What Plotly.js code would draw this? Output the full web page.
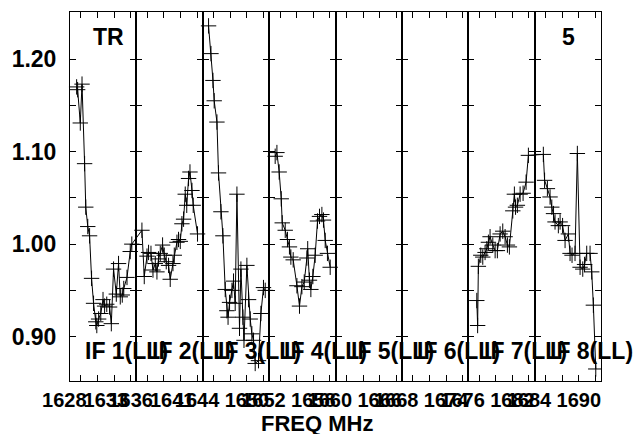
<!DOCTYPE html>
<html><head><meta charset="utf-8">
<script src="https://cdn.plot.ly/plotly-3.0.1.min.js"></script>
<style>html,body{margin:0;padding:0;background:#fff}</style>
</head><body><div id="chart" style="width:639px;height:434px"></div>
<script>
// ---- data (frequency in MHz, amplitude) ----
const if1Freq = [1629.48,1629.60,1629.92,1630.13,1630.44,1630.58,1630.82,1631.04,1631.28,1631.52,1631.79,1631.91,1632.13,1632.39,1632.66,1632.85,1633.11,1633.45,1633.66,1633.93,1634.26,1634.53,1634.74,1634.98,1635.16,1635.55,1635.94,1636.13];
const if1Amp  = [1.170,1.167,1.131,1.173,1.087,1.040,1.019,1.009,0.963,0.936,0.916,0.912,0.919,0.925,0.940,0.933,0.935,0.932,0.914,0.973,0.946,0.979,0.943,0.945,0.952,0.964,0.992,1.000];
const if2Freq = [1637.35,1637.63,1637.96,1638.15,1638.44,1638.68,1638.96,1639.16,1639.35,1639.56,1639.84,1640.04,1640.28,1640.56,1640.76,1641.09,1641.25,1641.57,1641.76,1641.97,1642.17,1642.37,1642.57,1642.75,1642.97,1643.14,1643.38,1643.53,1644.05];
const if2Amp  = [1.015,0.965,0.987,0.991,0.990,0.972,0.979,0.970,0.984,0.990,0.999,0.988,0.981,0.977,0.962,0.979,0.988,1.002,1.005,1.003,1.022,1.027,1.054,1.042,1.071,1.078,1.058,1.042,1.011];
const if3Freq = [1645.38,1645.67,1645.91,1646.06,1646.39,1646.58,1646.87,1647.11,1647.39,1647.59,1647.73,1647.91,1648.20,1648.39,1648.59,1648.80,1649.11,1649.28,1649.52,1649.65,1650.00,1650.20,1650.40,1650.60,1650.80,1651.00,1651.40,1651.69,1652.00,1652.21];
const if3Amp  = [1.236,1.206,1.177,1.155,1.132,1.077,1.035,1.009,0.951,0.928,0.921,0.937,0.950,0.960,0.936,1.054,0.909,0.973,0.921,0.896,0.977,0.940,0.919,0.903,0.896,0.871,0.874,0.925,0.953,0.950];
const if4Freq = [1653.41,1653.62,1653.89,1654.14,1654.26,1654.62,1654.89,1655.13,1655.30,1655.58,1656.03,1656.34,1656.63,1656.91,1657.23,1657.33,1657.54,1657.71,1657.95,1658.23,1658.51,1658.75,1659.04,1659.23,1659.44,1659.71,1660.04];
const if4Amp  = [1.095,1.099,1.078,1.049,1.023,1.015,1.005,0.997,0.986,0.983,0.955,0.933,0.954,0.959,0.985,0.995,0.961,0.951,0.965,0.988,1.025,1.030,1.032,1.026,1.004,0.990,0.975];
const if7Freq = [1677.71,1677.81,1677.90,1678.19,1678.43,1678.71,1678.92,1679.11,1679.31,1679.64,1679.92,1680.19,1680.52,1680.84,1681.12,1681.40,1681.64,1682.05,1682.24,1682.38,1682.60,1682.93,1683.29,1683.65,1683.93];
const if7Amp  = [0.939,0.912,0.976,0.988,0.986,0.991,0.995,1.002,1.008,0.999,0.993,0.993,1.011,1.014,1.008,0.999,0.997,1.036,1.054,1.040,1.042,1.054,1.055,1.067,1.096];
const if8Freq = [1685.73,1685.88,1686.22,1686.54,1686.75,1686.96,1687.14,1687.54,1687.75,1688.05,1688.35,1688.75,1688.95,1689.19,1689.55,1689.83,1690.16,1690.48,1690.70,1690.96,1691.36,1691.56,1691.76,1692.05];
const if8Amp  = [1.097,1.069,1.060,1.051,1.040,1.033,1.024,1.020,1.024,1.020,1.004,1.011,0.990,0.988,0.990,1.098,0.975,0.973,0.978,0.990,0.990,0.970,0.934,0.865];

const ifLabels = ['IF 1(LL)','IF 2(LL)','IF 3(LL)','IF 4(LL)','IF 5(LL)','IF 6(LL)','IF 7(LL)','IF 8(LL)'];
const ifStartFreq = [1628.68,1636.68,1644.68,1652.68,1660.68,1668.68,1676.68,1684.68];
const ifBandwidth = 8;
const yTickVals = [0.90,0.95,1.00,1.05,1.10,1.15,1.20];
const yTickText = ['0.90','','1.00','','1.10','','1.20'];
const xLabelFreqs = [1628,1633,1636,1641,1644,1650,1652,1658,1660,1666,1668,1674,1676,1682,1684,1690];
const xLabelText  = ['1628','1633','1636','1641','1644','1650','1652','1658','1660','1666','1668','1674','1676','1682','1684','1690'];
const yRange = [0.852, 1.251];

// ---- geometry (layout only) ----
const W = 639, H = 434, ML = 40, MR = 38, MT = 12, MB = 53;
const plotW = W - ML - MR;            // 561
const frameLeftPx = 30;               // frame starts 30px into the plot area
const panelPx = (plotW - frameLeftPx) / 8;
const pxPerMHz = panelPx / ifBandwidth;
const fullRange = [ifStartFreq[0] - frameLeftPx / pxPerMHz, ifStartFreq[7] + ifBandwidth];

// ---- one polyline; breaks where the plot shows none ----
const xs = [].concat(if1Freq, if2Freq, [null], if3Freq, [null], if4Freq, [null], if7Freq, if8Freq);
const ys = [].concat(if1Amp, if2Amp, [null], if3Amp, [null], if4Amp, [null], if7Amp, if8Amp);

const FONT = 'Liberation Sans, Arial, Helvetica, sans-serif';
const traces = [{
  type:'scatter', mode:'lines+markers', x:xs, y:ys, xaxis:'x', yaxis:'y',
  connectgaps:false, showlegend:false, hoverinfo:'skip',
  line:{color:'#000', width:1},
  marker:{symbol:'cross-thin-open', size:11, color:'#000', line:{color:'#000', width:1}}
}];

const layout = {
  width:W, height:H,
  margin:{l:ML, r:MR, t:MT, b:MB},
  paper_bgcolor:'#fff', plot_bgcolor:'rgba(0,0,0,0)',
  showlegend:false,
  font:{family:FONT, color:'#000'},
  xaxis:{domain:[0,1], anchor:'y', range:fullRange,
    tickmode:'array', tickvals:xLabelFreqs, ticktext:xLabelText, ticks:'', tickangle:0,
    showline:false, showgrid:false, zeroline:false, ticklabelstandoff:5,
    tickfont:{family:FONT, size:20, weight:'bold', color:'#000'}},
  yaxis:{domain:[0,1], anchor:'x', range:yRange, showticklabels:false,
    ticks:'', showline:false, showgrid:false, zeroline:false},
  annotations:[]
};

for (let k=0;k<8;k++){
  const xa = 'xaxis'+(k+2), ya = 'yaxis'+(k+2);
  const d0 = (frameLeftPx + panelPx*k)/plotW, d1 = (frameLeftPx + panelPx*(k+1))/plotW;
  layout[xa] = {domain:[d0, Math.min(1,d1)], anchor:'y'+(k+2),
    range:[ifStartFreq[k], ifStartFreq[k]+ifBandwidth],
    tickmode:'linear', tick0:1628, dtick:2, ticks:'inside', ticklen:6, tickwidth:1, tickcolor:'#000',
    showticklabels:false, showline:true, linecolor:'#000', linewidth:1, mirror:'ticks',
    showgrid:false, zeroline:false};
  layout[ya] = {domain:[0,1], anchor:'x'+(k+2), range:yRange,
    tickmode:'array', tickvals:yTickVals, ticktext:yTickText, ticks:'inside', ticklen:6, tickwidth:1, tickcolor:'#000',
    showticklabels:(k===0), ticklabelstandoff:8,
    tickfont:{family:FONT, size:23, weight:'bold', color:'#000'},
    showline:true, linecolor:'#000', linewidth:1, mirror:'ticks',
    showgrid:false, zeroline:false};
  traces.push({type:'scatter', mode:'markers', x:[null], y:[null], xaxis:'x'+(k+2), yaxis:'y'+(k+2),
    showlegend:false, hoverinfo:'skip'});
  layout.annotations.push({xref:'x'+(k+2)+' domain', yref:'y'+(k+2)+' domain', x:0.2, y:0.08,
    xanchor:'left', yanchor:'middle', showarrow:false, text:ifLabels[k],
    font:{family:FONT, size:23, weight:'bold', color:'#000'}});
}
layout.annotations.push({xref:'x2 domain', yref:'y2 domain', x:0.575, y:0.931, xanchor:'center', yanchor:'middle',
  showarrow:false, text:'TR', font:{family:FONT, size:23, weight:'bold', color:'#000'}});
layout.annotations.push({xref:'x9 domain', yref:'y9 domain', x:0.51, y:0.931, xanchor:'center', yanchor:'middle',
  showarrow:false, text:'5', font:{family:FONT, size:23, weight:'bold', color:'#000'}});
layout.annotations.push({xref:'paper', yref:'paper', x:(316.7-ML)/plotW, y:-0.1165, xanchor:'center', yanchor:'middle',
  showarrow:false, text:'FREQ MHz', font:{family:FONT, size:22, weight:'bold', color:'#000'}});

Plotly.newPlot('chart', traces, layout, {staticPlot:true, displayModeBar:false});
</script></body></html>
